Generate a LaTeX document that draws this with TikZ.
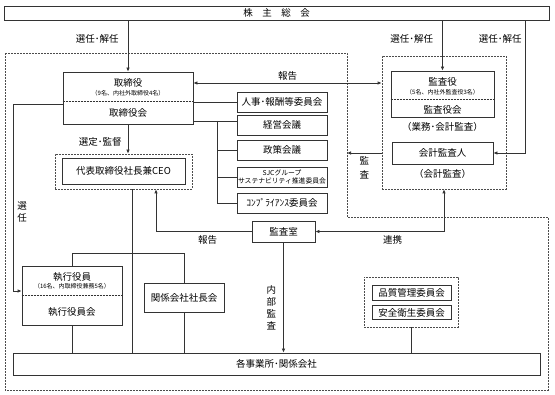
\documentclass[tikz,border=0pt]{standalone}
\usepackage{fontspec}
\setmainfont{Noto Sans CJK JP}
\usetikzlibrary{arrows.meta, positioning}

\begin{document}
\begin{tikzpicture}[x=1pt, y=-1pt, >={Latex[length=4pt,width=3.5pt]},
    line/.style={draw=black!80, line width=0.75pt},
    box/.style={rectangle, draw=black!80, line width=0.75pt, inner sep=0pt, align=center,
                font=\fontsize{9.5}{11}\selectfont},
    grp/.style={rectangle, draw=black!70, line width=0.75pt, dash pattern=on 2pt off 1pt, inner sep=0pt},
    lbl/.style={font=\fontsize{9.5}{12}\selectfont, inner sep=1pt, align=center},
    note/.style={font=\fontsize{6}{6.5}\selectfont, inner sep=0pt}]

    \useasboundingbox (0,0) rectangle (555,395);
    \fill[white] (0,0) rectangle (555,395);

    % Company boundary
    \draw[black!70, line width=0.75pt, dash pattern=on 2pt off 1pt]
        (5,53) -- (347,53) -- (347,217) -- (548,217) -- (548,390) -- (5,390) -- cycle;

    % Shareholders
    \node[box, minimum width=545, minimum height=14] (sh) at (276.5,13)
        {株\hspace{1em}主\hspace{1em}総\hspace{1em}会};

    % Board of directors
    \node[box, minimum width=130, minimum height=52] (brd) at (128,98) {};
    \node[lbl] (brdname) at (128,83) {取締役};
    \node[note] (brdnote) at (128,93) {（9名、内社外取締役4名）};
    \node[lbl] (brdmeet) at (128,113) {取締役会};
    \draw[black!80, line width=0.75pt, dash pattern=on 2pt off 1pt]
        (brd.west |- 0,101) -- (brd.east |- 0,101);

    % Auditors
    \node[grp, minimum width=124, minimum height=133] (audgrp) at (444,122.5) {};
    \node[box, minimum width=103, minimum height=46] (aud) at (442.5,94) {};
    \node[lbl] (audname) at (442.5,82) {監査役};
    \node[note] (audnote) at (442.5,92) {（5名、内社外監査役3名）};
    \node[lbl] (audmeet) at (442.5,110) {監査役会};
    \draw[black!80, line width=0.75pt, dash pattern=on 2pt off 1pt]
        (aud.west |- 0,99) -- (aud.east |- 0,99);
    \node[lbl, below=4pt of aud] (audscope) {（業務･会計監査）};
    \node[box, minimum width=101, minimum height=22] (accaud) at (442.5,153) {会計監査人};
    \node[lbl, below=4pt of accaud] (accscope) {（会計監査）};

    % CEO
    \node[grp, minimum width=137, minimum height=35] (ceogrp) at (123.5,171.5) {};
    \node[box, minimum width=123, minimum height=26] (ceo) at (123.5,171) {代表取締役社長兼CEO};

    % Committees
    \node[box, minimum width=90, minimum height=20] (hr) at (282,102) {人事･報酬等委員会};
    \node[box, minimum width=90, minimum height=20] (mgmt) at (282,125) {経営会議};
    \node[box, minimum width=90, minimum height=20] (pol) at (282,150) {政策会議};
    \node[box, minimum width=90, minimum height=20, font=\fontsize{6.8}{8}\selectfont]
        (sus) at (282,177) {SJCグループ\\サステナビリティ推進委員会};
    \node[box, minimum width=90, minimum height=20] (comp) at (282,203) {ｺﾝﾌﾟﾗｲｱﾝｽ委員会};

    % Internal audit office
    \node[box, minimum width=63, minimum height=21] (naud) at (283.5,231.5) {監査室};

    % Executive officers
    \node[box, minimum width=100, minimum height=59] (exe) at (72,295.5) {};
    \node[lbl] (exename) at (72,277) {執行役員};
    \node[note] (exenote) at (72,286) {（16名、内取締役兼務5名）};
    \node[lbl] (exemeet) at (72,312) {執行役員会};
    \draw[black!80, line width=0.75pt, dash pattern=on 2pt off 1pt]
        (exe.west |- 0,295) -- (exe.east |- 0,295);

    \node[box, minimum width=80, minimum height=29] (aff) at (184,297.5) {関係会社社長会};

    % Quality and safety
    \node[grp, minimum width=94, minimum height=50] (qgrp) at (411,302) {};
    \node[box, minimum width=79, minimum height=15] (qual) at (411.5,293) {品質管理委員会};
    \node[box, minimum width=79, minimum height=14] (safe) at (411.5,312.5) {安全衛生委員会};

    % Sites
    \node[box, minimum width=527, minimum height=22] (sites) at (276.5,364) {各事業所･関係会社};

    % Helper points
    \coordinate (rt) at (525,153);
    \coordinate (rep) at (290,83);
    \coordinate (bus) at (217,121);
    \coordinate (selA) at (13,104);
    \coordinate (selB) at (13,291);
    \coordinate (trunk) at (132,253);
    \coordinate (rpt) at (156,229);
    \coordinate (outR) at (347,153);

    % Election arrows
    \draw[line, ->] (sh.south -| brd.north) -- node[lbl, pos=0.37, left=8pt] {選任･解任} (brd.north);
    \draw[line, ->] (sh.south -| aud.north) -- node[lbl, pos=0.37, left=8pt] {選任･解任} (aud.north);
    \draw[line, ->] (sh.south -| rt) -- node[lbl, pos=0.14, left=2pt] {選任･解任} (rt) -- (accaud.east);

    % Reporting between board and auditors
    \draw[line, <->] (brd.east |- rep) -- node[lbl, midway, above=1pt] {報告} (audgrp.west |- rep);

    % Board to committees
    \draw[line] (brd.east |- hr.west) -- (hr.west);
    \draw[line] (brd.east |- bus) -- (mgmt.west |- bus);
    \draw[line] (bus) |- (comp.west);
    \draw[line] (bus |- pol.west) -- (pol.west);
    \draw[line] (bus |- sus.west) -- (sus.west);

    % Board to CEO and officers
    \draw[line, ->] (brd.south) -- node[lbl, pos=0.6, left=5pt] {選定･監督} (brd.south |- ceogrp.north);
    \draw[line, ->] (brd.west |- selA) -- (selA) -- node[lbl, pos=0.58, right=3pt] {選\\任} (selB) -- (exe.west |- selB);

    % CEO down to sites
    \draw[line] (ceogrp.south -| trunk) -- (sites.north -| trunk);
    \draw[line] (exe.north) -- (exe.north |- trunk) -- (aff.north |- trunk) -- (aff.north);
    \draw[line] (exe.south) -- (exe.south |- sites.north);
    \draw[line] (aff.south) -- (aff.south |- sites.north);
    \draw[line] (qgrp.south) -- (qgrp.south |- sites.north);

    % Audit lines
    \draw[line, ->] (audgrp.west |- accaud) -- node[lbl, midway, below=2pt] {監\\[2pt]査} (outR);
    \draw[line, ->] (naud.west) -| node[lbl, pos=0.23, below=3pt] {報告} (rpt |- ceogrp.south);
    \draw[line, <->] (audgrp.south) |- node[lbl, pos=0.7, below=3pt] {連携} (naud.east);
    \draw[line, ->] (naud.south) -- node[lbl, pos=0.59, left=6pt] {内\\部\\監\\査} (naud.south |- sites.north);

\end{tikzpicture}
\end{document}
